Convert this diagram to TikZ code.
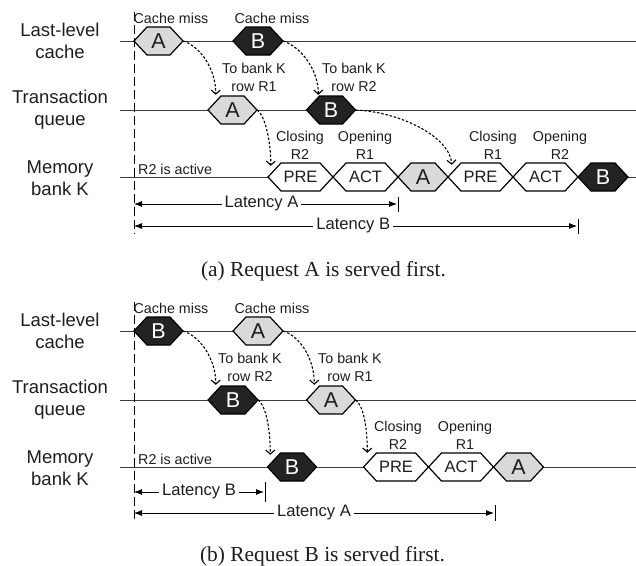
\documentclass[tikz,border=0pt]{standalone}
\usepackage{fontspec}
\setmainfont{Liberation Serif}
\setsansfont{Liberation Sans}
\usetikzlibrary{arrows.meta,calc}
\definecolor{hexgray}{RGB}{217,217,217}
\definecolor{hexblack}{RGB}{35,35,35}
\definecolor{rowline}{RGB}{60,60,60}
\definecolor{txt}{RGB}{30,30,30}
\tikzset{
  rowlabel/.style={font=\sffamily\fontsize{18.5}{22}\selectfont, align=center, inner sep=0, text=txt},
  smalllabel/.style={font=\sffamily\fontsize{14.3}{18}\selectfont, align=center, inner sep=0, text=txt},
  latlabel/.style={font=\sffamily\fontsize{16.6}{18}\selectfont, fill=white, inner sep=3pt, text=txt},
  timeline/.style={draw=rowline, line width=0.9pt},
  hexgraybox/.style={draw=black, fill=hexgray, line width=1.2pt, line join=miter},
  hexblackbox/.style={draw=black, fill=hexblack, line width=1.2pt, line join=miter},
  hexwhitebox/.style={draw=black, fill=white, line width=1.2pt, line join=miter},
  hexletter/.style={font=\sffamily\fontsize{21.5}{21}\selectfont, inner sep=0, text=txt},
  hexletterw/.style={font=\sffamily\fontsize{21.5}{21}\selectfont, inner sep=0, text=white},
  hexcmd/.style={font=\sffamily\fontsize{16.5}{17}\selectfont, inner sep=0, text=txt},
  sendarrow/.style={dash pattern=on 2.5pt off 1.8pt, line width=1.1pt, -{Straight Barb[length=4pt,width=9pt]}},
  latarrow/.style={line width=0.8pt, {Latex[length=8pt,width=6pt]}-{Latex[length=8pt,width=6pt]}},
  startline/.style={dash pattern=on 9pt off 4pt, line width=0.9pt},
  ticklinestyle/.style={line width=0.9pt},
  captionstyle/.style={font=\rmfamily\fontsize{21.4}{24}\selectfont, anchor=base, inner sep=0, text=txt},
}
% #1 box style, #2 name, #3 x, #4 y, #5 width, #6 text style, #7 text
\newcommand\hexnode[7]{%
  \path[#1] ({#3-#5/2},#4) -- ({#3-#5/2+13},{#4-14}) -- ({#3+#5/2-13},{#4-14})
    -- ({#3+#5/2},#4) -- ({#3+#5/2-13},{#4+14}) -- ({#3-#5/2+13},{#4+14}) -- cycle;
  \node[#6, minimum width=#5, minimum height=28] (#2) at (#3,#4) {#7};
}
\begin{document}
\begin{tikzpicture}[x=1pt,y=-1pt]
\useasboundingbox (0,0) rectangle (636,565);

%%%%%%%%%%%%%%%% Panel (a) %%%%%%%%%%%%%%%%
\node[rowlabel] (a-l1) at (60,41) {Last-level\\cache};
\node[rowlabel] (a-l2) at (60,110) {Transaction\\queue};
\node[rowlabel] (a-l3) at (60,178) {Memory\\bank K};

\coordinate (a-r1s) at (120,41);  \coordinate (a-r1e) at (636,41);
\coordinate (a-r2s) at (120,110); \coordinate (a-r2e) at (636,110);
\coordinate (a-r3s) at (120,177); \coordinate (a-r3e) at (636,177);
\draw[timeline] (a-r1s) -- (a-r1e);
\draw[timeline] (a-r2s) -- (a-r2e);
\draw[timeline] (a-r3s) -- (a-r3e);

\coordinate (a-ds) at (134,12); \coordinate (a-de) at (134,234);
\draw[startline] (a-ds) -- (a-de);

\hexnode{hexgraybox}{a-llcA}{158.5}{41}{49}{hexletter}{A}
\hexnode{hexblackbox}{a-llcB}{258}{41}{50}{hexletterw}{B}
\hexnode{hexgraybox}{a-qA}{232.5}{110}{49}{hexletter}{A}
\hexnode{hexblackbox}{a-qB}{331}{110}{49}{hexletterw}{B}
\hexnode{hexwhitebox}{a-pre1}{300.5}{177}{65}{hexcmd}{PRE}
\hexnode{hexwhitebox}{a-act1}{365.5}{177}{65}{hexcmd}{ACT}
\hexnode{hexgraybox}{a-mA}{423}{177}{50}{hexletter}{A}
\hexnode{hexwhitebox}{a-pre2}{480.5}{177}{65}{hexcmd}{PRE}
\hexnode{hexwhitebox}{a-act2}{545.5}{177}{65}{hexcmd}{ACT}
\hexnode{hexblackbox}{a-mB}{603}{177}{50}{hexletterw}{B}

\node[smalllabel] (a-cm1) at (171,18) {Cache miss};
\node[smalllabel] (a-cm2) at (272,18) {Cache miss};
\node[smalllabel] (a-tb1) at (254,77) {To bank K\\row R1};
\node[smalllabel] (a-tb2) at (354,77) {To bank K\\row R2};
\node[smalllabel] (a-c1) at (300,145) {Closing\\R2};
\node[smalllabel] (a-o1) at (365,145) {Opening\\R1};
\node[smalllabel] (a-c2) at (493,145) {Closing\\R1};
\node[smalllabel] (a-o2) at (560,145) {Opening\\R2};
\node[smalllabel, anchor=west] (a-act) at (138,169) {R2 is active};

\draw[sendarrow] (a-llcA.east) .. controls +(18,6) and +(0,-25) .. ($(a-qA.north west)+(8,-1)$);
\draw[sendarrow] (a-llcB.east) .. controls +(18,6) and +(0,-25) .. ($(a-qB.north west)+(12,-1)$);
\draw[sendarrow] (a-qA.east) .. controls +(8,6) and +(0,-25) .. ($(a-pre1.north west)+(3,3)$);
\draw[sendarrow] (a-qB.east) .. controls +(45,2) and +(-2,-28) .. ($(a-pre2.north west)+(4,2)$);

\coordinate (a-laL) at (134,204); \coordinate (a-laR) at (397,204);
\coordinate (a-lbL) at (134,226); \coordinate (a-lbR) at (577,226);
\draw[latarrow] (a-laL) -- node[latlabel, pos=0.485] (a-latA) {Latency A} (a-laR);
\draw[latarrow] (a-lbL) -- node[latlabel, pos=0.495] (a-latB) {Latency B} (a-lbR);
\draw[ticklinestyle] ($(a-laR)+(1,-7)$) -- ($(a-laR)+(1,8)$);
\draw[ticklinestyle] ($(a-lbR)+(1,-7)$) -- ($(a-lbR)+(1,8)$);

\node[captionstyle] (a-cap) at (323.5,276.5) {(a) Request A is served first.};

%%%%%%%%%%%%%%%% Panel (b) %%%%%%%%%%%%%%%%
\node[rowlabel] (b-l1) at (60,331) {Last-level\\cache};
\node[rowlabel] (b-l2) at (60,400) {Transaction\\queue};
\node[rowlabel] (b-l3) at (60,468) {Memory\\bank K};

\coordinate (b-r1s) at (120,331); \coordinate (b-r1e) at (636,331);
\coordinate (b-r2s) at (120,400); \coordinate (b-r2e) at (636,400);
\coordinate (b-r3s) at (120,467); \coordinate (b-r3e) at (636,467);
\draw[timeline] (b-r1s) -- (b-r1e);
\draw[timeline] (b-r2s) -- (b-r2e);
\draw[timeline] (b-r3s) -- (b-r3e);

\coordinate (b-ds) at (134,302); \coordinate (b-de) at (134,522);
\draw[startline] (b-ds) -- (b-de);

\hexnode{hexblackbox}{b-llcB}{158.5}{331}{49}{hexletterw}{B}
\hexnode{hexgraybox}{b-llcA}{258}{331}{50}{hexletter}{A}
\hexnode{hexblackbox}{b-qB}{233}{400}{50}{hexletterw}{B}
\hexnode{hexgraybox}{b-qA}{331}{400}{49}{hexletter}{A}
\hexnode{hexblackbox}{b-mB}{292}{467}{49}{hexletterw}{B}
\hexnode{hexwhitebox}{b-pre}{396}{467}{65}{hexcmd}{PRE}
\hexnode{hexwhitebox}{b-act}{461}{467}{65}{hexcmd}{ACT}
\hexnode{hexgraybox}{b-mA}{518.5}{467}{50}{hexletter}{A}

\node[smalllabel] (b-cm1) at (171,308) {Cache miss};
\node[smalllabel] (b-cm2) at (272,308) {Cache miss};
\node[smalllabel] (b-tb1) at (250,367) {To bank K\\row R2};
\node[smalllabel] (b-tb2) at (350,367) {To bank K\\row R1};
\node[smalllabel] (b-c1) at (398,435) {Closing\\R2};
\node[smalllabel] (b-o1) at (465,435) {Opening\\R1};
\node[smalllabel, anchor=west] (b-act2) at (138,459) {R2 is active};

\draw[sendarrow] (b-llcB.east) .. controls +(18,6) and +(0,-25) .. ($(b-qB.north west)+(8,-1)$);
\draw[sendarrow] (b-llcA.east) .. controls +(18,6) and +(0,-25) .. ($(b-qA.north west)+(8,-1)$);
\draw[sendarrow] (b-qB.east) .. controls +(8,6) and +(0,-25) .. ($(b-mB.north west)+(3,2)$);
\draw[sendarrow] (b-qA.east) .. controls +(8,6) and +(0,-25) .. ($(b-pre.north west)+(4,0)$);

\coordinate (b-lbL) at (134,492); \coordinate (b-lbR) at (264,492);
\coordinate (b-laL) at (134,513); \coordinate (b-laR) at (494,513);
\draw[latarrow] (b-lbL) -- node[latlabel, pos=0.5] (b-latB) {Latency B} (b-lbR);
\draw[latarrow] (b-laL) -- node[latlabel, pos=0.5] (b-latA) {Latency A} (b-laR);
\draw[ticklinestyle] ($(b-lbR)+(1,-10)$) -- ($(b-lbR)+(1,10)$);
\draw[ticklinestyle] ($(b-laR)+(1,-8)$) -- ($(b-laR)+(1,8)$);

\node[captionstyle] (b-cap) at (322.5,561) {(b) Request B is served first.};
\end{tikzpicture}
\end{document}
